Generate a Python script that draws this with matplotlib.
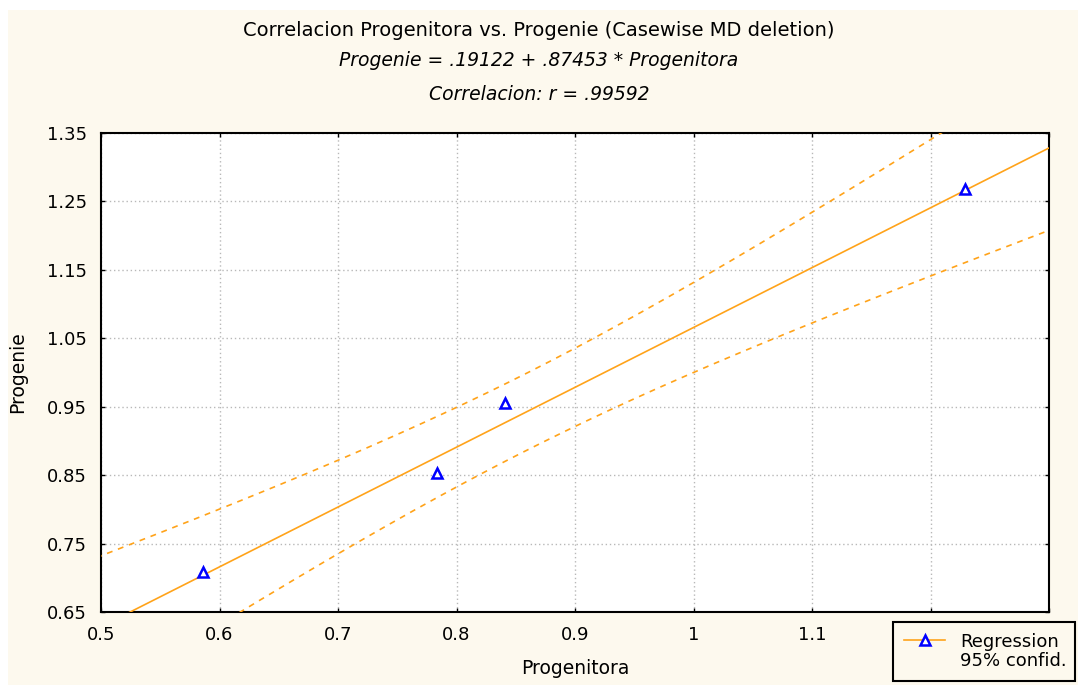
import matplotlib
matplotlib.use("Agg")
import matplotlib.pyplot as plt
import numpy as np
from matplotlib.lines import Line2D
from matplotlib.patches import Rectangle

# data
progenitora = [0.586, 0.7835, 0.841, 1.229]
progenie = [0.708, 0.853, 0.955, 1.268]
intercept = 0.19122
slope = 0.87453
t_crit = 4.303  # t(0.975, df=2)

x_ticks = [0.5, 0.6, 0.7, 0.8, 0.9, 1.0, 1.1, 1.2, 1.3]
x_labels = ["0.5", "0.6", "0.7", "0.8", "0.9", "1", "1.1", "", ""]  # 1.2/1.3 hidden by legend
y_ticks = [0.65, 0.75, 0.85, 0.95, 1.05, 1.15, 1.25, 1.35]
y_labels = ["0.65", "0.75", "0.85", "0.95", "1.05", "1.15", "1.25", "1.35"]

CREAM = "#fdf9ee"
ORANGE = "#ffa31a"
FS = 13.5

plt.rcParams["font.family"] = ["DejaVu Sans"]

fig = plt.figure(figsize=(10.78, 6.85), dpi=100, facecolor="white")
fig.patches.append(Rectangle((8 / 1078, 0), 1, 1 - 10 / 685, transform=fig.transFigure,
                             facecolor=CREAM, edgecolor="none", zorder=-10))

ax = fig.add_axes([101 / 1078, 73 / 685, 948 / 1078, 479 / 685])
ax.set_facecolor("white")

# regression line and 95% confidence band for the mean
x = np.asarray(progenitora)
y = np.asarray(progenie)
xs = np.linspace(0.45, 1.35, 200)
fit = intercept + slope * xs
resid = y - (intercept + slope * x)
s = np.sqrt(np.sum(resid ** 2) / (len(x) - 2))
sxx = np.sum((x - x.mean()) ** 2)
half = t_crit * s * np.sqrt(1 / len(x) + (xs - x.mean()) ** 2 / sxx)

ax.plot(xs, fit, color=ORANGE, linewidth=1.2, zorder=3)
ax.plot(xs, fit + half, color=ORANGE, linewidth=1.2, linestyle=(0, (3.5, 3.5)), zorder=3)
ax.plot(xs, fit - half, color=ORANGE, linewidth=1.2, linestyle=(0, (3.5, 3.5)), zorder=3)
ax.plot(x, y, linestyle="none", marker="^", markersize=6.5, markerfacecolor="white",
        markeredgecolor="#0000ff", markeredgewidth=1.8, zorder=4)

ax.set_xlim(0.5, 1.3)
ax.set_ylim(0.65, 1.35)
ax.set_xticks(x_ticks)
ax.set_xticklabels(x_labels)
ax.set_yticks(y_ticks)
ax.set_yticklabels(y_labels)
ax.tick_params(direction="in", length=3, width=1, labelsize=13, colors="black",
               top=True, right=True, pad=10)
ax.grid(True, color="#b8b8b8", linestyle=(0, (1, 2)), linewidth=1)
for sp in ax.spines.values():
    sp.set_linewidth(1.5)
    sp.set_color("black")

ax.set_xlabel("Progenitora", fontsize=FS, labelpad=11)
ax.set_ylabel("Progenie", fontsize=FS, labelpad=14)

fig.text(0.5, 1 - 30 / 685, "Correlacion Progenitora vs. Progenie (Casewise MD deletion)",
         ha="center", va="center", fontsize=14)
fig.text(0.5, 1 - 61 / 685, "Progenie = .19122 + .87453 * Progenitora",
         ha="center", va="center", fontsize=FS, style="italic")
fig.text(0.5, 1 - 94 / 685, "Correlacion: r = .99592",
         ha="center", va="center", fontsize=FS, style="italic")

handles = [
    Line2D([], [], color=ORANGE, linewidth=1.2, marker="^", markersize=6.5,
           markerfacecolor="white", markeredgecolor="#0000ff", markeredgewidth=1.8),
    Line2D([], [], color="none"),
]
leg = fig.legend(handles, ["Regression", "95% confid."], loc="center",
                 bbox_to_anchor=(893 / 1078, 2 / 685, 182 / 1078, 63 / 685), mode="expand",
                 fontsize=13, frameon=True, fancybox=False, facecolor=CREAM,
                 edgecolor="black", framealpha=1, handlelength=2.3, labelspacing=0.1,
                 borderpad=0.6, handletextpad=0.8, borderaxespad=0)
leg.get_frame().set_linewidth(1.5)
leg.set_zorder(10)

fig.savefig("out.png", dpi=100, facecolor=fig.get_facecolor())
